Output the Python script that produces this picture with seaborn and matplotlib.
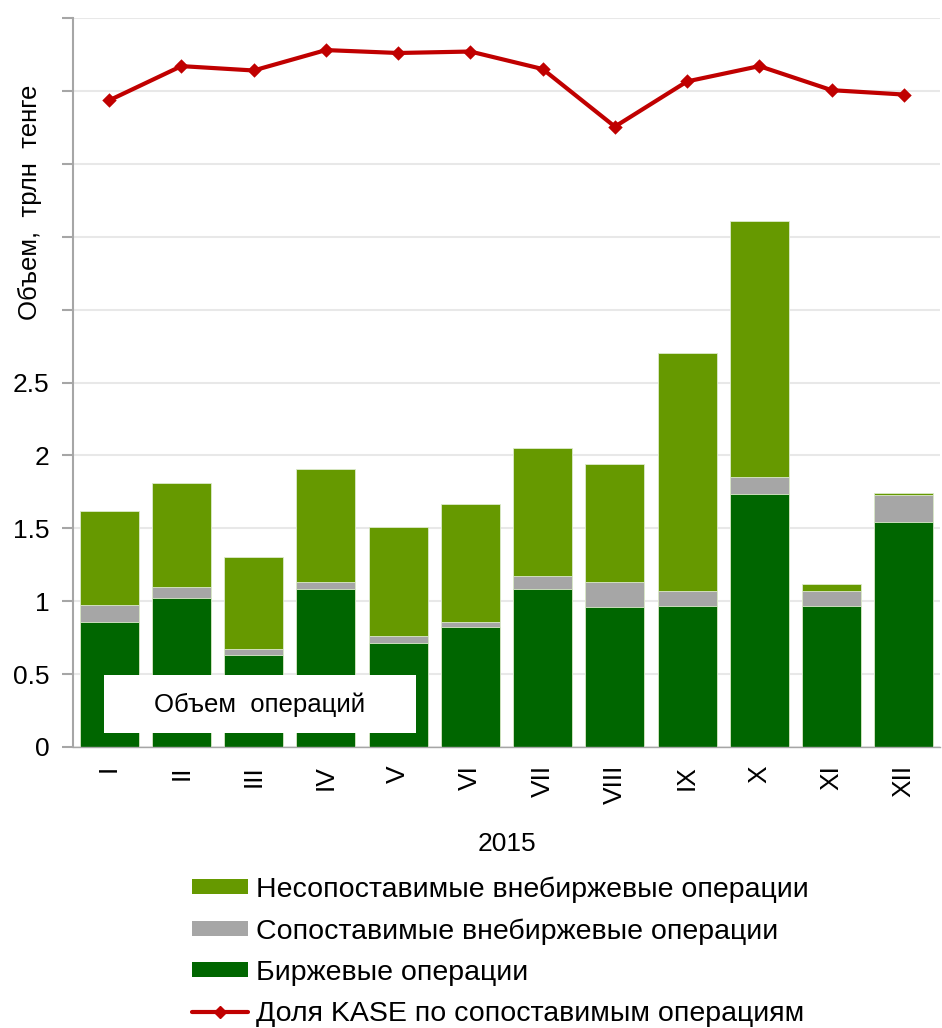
import matplotlib
matplotlib.use('Agg')
import matplotlib.pyplot as plt
from matplotlib.patches import Patch, Rectangle
from matplotlib.lines import Line2D
from matplotlib.ticker import FixedLocator, FixedFormatter
import seaborn as sns
import pandas as pd
import numpy as np

# Data (trln tenge, share in %)
months = ['I', 'II', 'III', 'IV', 'V', 'VI', 'VII', 'VIII', 'IX', 'X', 'XI', 'XII']
exchange = [0.86, 1.025, 0.63, 1.085, 0.715, 0.82, 1.085, 0.957, 0.97, 1.735, 0.97, 1.54]
comparableOtc = [0.115, 0.075, 0.04, 0.045, 0.045, 0.04, 0.085, 0.173, 0.10, 0.115, 0.10, 0.185]
nonComparableOtc = [0.645, 0.71, 0.63, 0.78, 0.75, 0.805, 0.88, 0.81, 1.63, 1.755, 0.045, 0.015]
kaseShare = [88.7, 93.4, 92.8, 95.6, 95.2, 95.4, 93.0, 85.1, 91.3, 93.4, 90.1, 89.5]

yTicks = [0, 0.5, 1, 1.5, 2, 2.5, 3, 3.5, 4, 4.5, 5]
yTickLabels = ['0', '0.5', '1', '1.5', '2', '2.5', '', '', '', '', '']

labNonComp = 'Несопоставимые внебиржевые операции'
labComp = 'Сопоставимые внебиржевые операции'
labExch = 'Биржевые операции'
labShare = 'Доля KASE по сопоставимым операциям'

# Styles
colNonComp = '#669900'
colComp = '#A6A6A6'
colExch = '#006600'
colLine = '#C00000'
gridCol = '#E8E8E8'
spineCol = '#A6A6A6'
barW = 0.82
fs = 19

df = pd.DataFrame({'month': months, 'exch': exchange, 'comp': comparableOtc, 'noncomp': nonComparableOtc,
                   'share': kaseShare})
df['lvl2'] = df.exch + df.comp
df['lvl3'] = df.lvl2 + df.noncomp

sns.set_style('white')
plt.rcParams['font.family'] = ['Liberation Sans', 'DejaVu Sans']
plt.rcParams['text.color'] = 'black'
plt.rcParams['xtick.labelcolor'] = 'black'
plt.rcParams['ytick.labelcolor'] = 'black'

fig = plt.figure(figsize=(9.42, 10.28), dpi=100)
ax1 = fig.add_axes([73/942, 1-747/1028, 867/942, 729/1028])

# stacked bars by overlaying cumulative totals
for col, c in [('lvl3', colNonComp), ('lvl2', colComp), ('exch', colExch)]:
    sns.barplot(data=df, x='month', y=col, color=c, saturation=1, width=barW, ax=ax1,
                edgecolor='#DDEBCC', linewidth=0.6, zorder=2)

ax1.set_ylim(0, 5)
ax1.set_xlim(-0.5, 11.5)
ax1.yaxis.set_major_locator(FixedLocator(yTicks))
ax1.yaxis.set_major_formatter(FixedFormatter(yTickLabels))
ax1.grid(axis='y', color=gridCol, lw=1.5, zorder=0)
ax1.set_axisbelow(True)
ax1.tick_params(axis='y', direction='out', length=8, width=1.5, color=spineCol, labelsize=fs,
                labelcolor='black', pad=9, left=True)
ax1.tick_params(axis='x', length=0, labelsize=fs, labelcolor='black', pad=13)
for lab in ax1.get_xticklabels():
    lab.set_rotation(90)
    lab.set_va('top')
for s in ['top', 'right']:
    ax1.spines[s].set_visible(False)
ax1.spines['left'].set_color(spineCol)
ax1.spines['left'].set_linewidth(1.5)
ax1.spines['bottom'].set_color(spineCol)
ax1.spines['bottom'].set_linewidth(1)
ax1.set_ylabel('')
ax1.set_xlabel('2015', fontsize=fs, labelpad=20, color='black')

# share line on hidden secondary axis (0-100%)
ax2 = ax1.twinx()
sns.pointplot(data=df, x='month', y='share', color=colLine, markers='D', markersize=5,
              linewidth=3, ax=ax2, zorder=5)
ax2.set_ylim(0, 100)
ax2.set_xlim(-0.5, 11.5)
ax2.axis('off')

# y label
fig.text(30/942, 1-202/1028, 'Объем,  трлн  тенге', rotation=90, fontsize=18.5, ha='center', va='center')

# caption box
fig.patches.append(Rectangle((104/942, 1-733/1028), 312/942, 58/1028, transform=fig.transFigure,
                             facecolor='white', edgecolor='none', zorder=10))
fig.text(260/942, 1-705/1028, 'Объем  операций', fontsize=18.5, ha='center', va='center', zorder=11)

# legend
handles = [Patch(facecolor=colNonComp, edgecolor='none', label=labNonComp),
           Patch(facecolor=colComp, edgecolor='none', label=labComp),
           Patch(facecolor=colExch, edgecolor='none', label=labExch),
           Line2D([0], [0], color=colLine, lw=3, marker='D', markersize=6, label=labShare)]
fig.legend(handles=handles, loc='upper left', bbox_to_anchor=(178/942, 1-862/1028), frameon=False,
           fontsize=20.5, handlelength=1.95, handleheight=0.45, handletextpad=0.3, labelspacing=0.54,
           borderpad=0)

fig.savefig('out.png', dpi=100)
